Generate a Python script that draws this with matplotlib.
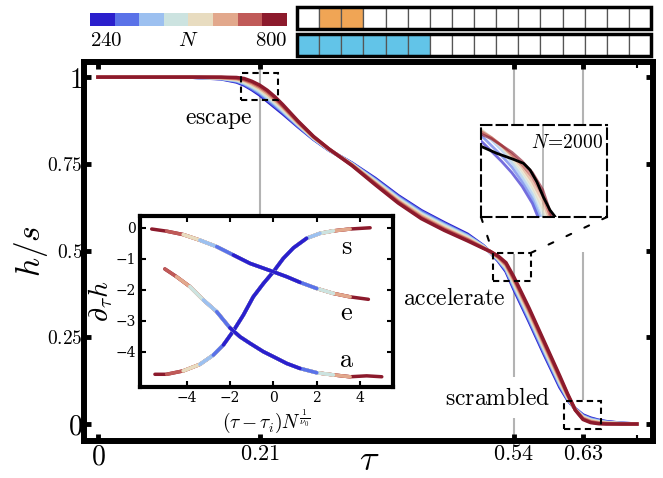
import numpy as np
import matplotlib
matplotlib.use("Agg")
import matplotlib.pyplot as plt
from matplotlib.patches import Rectangle, ConnectionPatch
from matplotlib.colors import ListedColormap

plt.rcParams["mathtext.fontset"] = "cm"
plt.rcParams["font.family"] = "serif"

# system sizes and their colours (blue = 240 ... dark red = 800)
sizes = [240, 320, 400, 480, 560, 640, 720, 800]
colors = ["#2b1fcc", "#5a72e8", "#9cc0f0", "#cce3e0",
          "#e8dcc0", "#e2a88c", "#c05a58", "#8c1a2c"]

# main panel: h/s vs tau, one row per N
tau = [0.00, 0.12, 0.16, 0.18, 0.19, 0.20, 0.21, 0.22, 0.23, 0.24, 0.26, 0.28,
       0.30, 0.33, 0.36, 0.39, 0.42, 0.45, 0.48, 0.50, 0.51, 0.52, 0.53, 0.54,
       0.56, 0.58, 0.60, 0.61, 0.62, 0.63, 0.64, 0.65, 0.66, 0.68, 0.70]
h_by_N = [
    [1.000, 1.000, 0.995, 0.986, 0.977, 0.964, 0.949, 0.931, 0.913, 0.895, 0.857, 0.821,
     0.790, 0.752, 0.708, 0.658, 0.615, 0.580, 0.547, 0.515, 0.494, 0.470, 0.440, 0.390,
     0.296, 0.199, 0.106, 0.070, 0.044, 0.026, 0.017, 0.011, 0.007, 0.002, 0.000],
    [1.000, 1.000, 0.996, 0.988, 0.980, 0.967, 0.953, 0.935, 0.917, 0.899, 0.859, 0.822,
     0.790, 0.751, 0.705, 0.655, 0.612, 0.577, 0.544, 0.514, 0.494, 0.472, 0.444, 0.395,
     0.301, 0.204, 0.111, 0.072, 0.043, 0.024, 0.015, 0.010, 0.006, 0.002, 0.000],
    [1.000, 1.000, 0.996, 0.990, 0.982, 0.971, 0.957, 0.940, 0.922, 0.902, 0.862, 0.823,
     0.791, 0.750, 0.703, 0.652, 0.608, 0.574, 0.542, 0.513, 0.495, 0.474, 0.447, 0.400,
     0.307, 0.210, 0.115, 0.075, 0.043, 0.022, 0.013, 0.008, 0.005, 0.001, 0.000],
    [1.000, 1.000, 0.997, 0.992, 0.985, 0.974, 0.961, 0.944, 0.926, 0.906, 0.864, 0.824,
     0.791, 0.749, 0.700, 0.649, 0.605, 0.571, 0.539, 0.512, 0.495, 0.476, 0.451, 0.405,
     0.312, 0.215, 0.120, 0.077, 0.042, 0.020, 0.011, 0.007, 0.004, 0.001, 0.000],
    [1.000, 1.000, 0.998, 0.993, 0.988, 0.978, 0.965, 0.949, 0.930, 0.910, 0.866, 0.826,
     0.792, 0.748, 0.698, 0.646, 0.602, 0.567, 0.536, 0.510, 0.496, 0.478, 0.454, 0.410,
     0.318, 0.220, 0.124, 0.080, 0.042, 0.019, 0.010, 0.005, 0.003, 0.001, 0.000],
    [1.000, 1.000, 0.999, 0.995, 0.991, 0.981, 0.969, 0.953, 0.934, 0.914, 0.868, 0.827,
     0.792, 0.747, 0.695, 0.643, 0.599, 0.564, 0.533, 0.509, 0.496, 0.480, 0.458, 0.415,
     0.323, 0.225, 0.129, 0.082, 0.041, 0.017, 0.008, 0.004, 0.002, 0.001, 0.000],
    [1.000, 1.000, 0.999, 0.997, 0.993, 0.985, 0.973, 0.958, 0.939, 0.917, 0.871, 0.828,
     0.793, 0.746, 0.693, 0.640, 0.595, 0.561, 0.531, 0.508, 0.497, 0.482, 0.461, 0.420,
     0.329, 0.231, 0.133, 0.085, 0.041, 0.015, 0.006, 0.002, 0.001, 0.000, 0.000],
    [1.000, 1.000, 1.000, 0.999, 0.996, 0.988, 0.977, 0.962, 0.943, 0.921, 0.873, 0.829,
     0.793, 0.745, 0.690, 0.637, 0.592, 0.558, 0.528, 0.507, 0.497, 0.484, 0.465, 0.425,
     0.334, 0.236, 0.138, 0.087, 0.040, 0.013, 0.004, 0.001, 0.000, 0.000, 0.000],
]

# inset: collapsed derivative curves
x_s = [-5.48, -4.94, -4.17, -3.40, -2.78, -2.31, -1.85, -1.39, -0.93, -0.46, 0.00,
       0.46, 0.93, 1.54, 2.16, 2.78, 3.55, 4.48]
y_s = [-4.73, -4.73, -4.62, -4.41, -4.11, -3.78, -3.33, -2.82, -2.23, -1.80, -1.42,
       -0.99, -0.65, -0.34, -0.18, -0.10, -0.04, 0.00]
x_e = [-5.63, -4.94, -4.17, -3.40, -2.62, -1.85, -1.08, 0.00, 0.62, 1.23, 2.01,
       2.78, 3.55, 4.40]
y_e = [-0.04, -0.11, -0.22, -0.40, -0.61, -0.88, -1.15, -1.42, -1.58, -1.76, -1.96,
       -2.12, -2.23, -2.31]
x_a = [-5.02, -4.48, -3.86, -3.24, -2.62, -2.01, -1.54, -1.08, -0.46, 0.00, 0.62,
       1.23, 2.01, 2.78, 3.55, 4.32, 5.02]
y_a = [-1.33, -1.58, -1.90, -2.33, -2.71, -3.23, -3.52, -3.73, -4.00, -4.16, -4.38,
       -4.54, -4.68, -4.75, -4.81, -4.78, -4.81]
x_lo = [-2.4, -2.9, -3.4, -3.9, -4.4, -4.8, -5.2, -6.0]
x_hi = [1.6, 2.1, 2.5, 2.9, 3.3, 3.7, 4.1, 5.1]

# zoomed panel near the accelerate point
tau_zoom = [0.516, 0.520, 0.524, 0.528, 0.532, 0.536, 0.540, 0.544, 0.548]
h_zoom = [
    [0.479, 0.470, 0.461, 0.451, 0.439, 0.424, 0.402, 0.387, 0.370],
    [0.484, 0.475, 0.466, 0.456, 0.443, 0.428, 0.406, 0.388, 0.370],
    [0.488, 0.480, 0.471, 0.460, 0.447, 0.432, 0.409, 0.390, 0.370],
    [0.489, 0.481, 0.473, 0.462, 0.450, 0.436, 0.416, 0.395, 0.375],
    [0.489, 0.482, 0.474, 0.464, 0.453, 0.439, 0.420, 0.400, 0.380],
    [0.488, 0.482, 0.475, 0.466, 0.456, 0.443, 0.426, 0.403, 0.383],
    [0.487, 0.482, 0.475, 0.467, 0.458, 0.447, 0.431, 0.406, 0.386],
    [0.485, 0.481, 0.475, 0.469, 0.461, 0.451, 0.436, 0.409, 0.390],
]
tau_2000 = [0.5163, 0.5221, 0.5286, 0.5325, 0.5351, 0.5377, 0.5402, 0.5428, 0.5448, 0.5470]
h_2000 = [0.4739, 0.4681, 0.4628, 0.4593, 0.4534, 0.4431, 0.4299, 0.4182, 0.4123, 0.400]

# cell strips at the top
strip_top = [0, 1, 1, 0, 0, 0, 0, 0, 0, 0, 0, 0, 0, 0, 0, 0]
strip_bottom = [1, 1, 1, 1, 1, 1, 0, 0, 0, 0, 0, 0, 0, 0, 0, 0]

fig = plt.figure(figsize=(6.63, 4.78), dpi=100)

# ---- main axes
ax = fig.add_axes([0.1274, 0.0774, 0.8576, 0.7939])
for k in range(len(sizes)):
    ax.plot(tau, h_by_N[k], color=colors[k], lw=2.5, zorder=3 + k)

gray = "#b3b3b3"
ax.vlines(0.21, 0.5, 1.2, color=gray, lw=1.5, zorder=1)
ax.vlines(0.54, -0.1, 0.018, color=gray, lw=1.5, zorder=1)
ax.vlines(0.54, 0.135, 0.49, color=gray, lw=1.5, zorder=1)
ax.vlines(0.54, 0.62, 1.2, color=gray, lw=1.5, zorder=1)
ax.vlines(0.63, 0.069, 0.496, color=gray, lw=1.5, zorder=1)
ax.vlines(0.63, 0.62, 1.2, color=gray, lw=1.5, zorder=1)

dash = (0, (3, 2))
for (x0, y0, w, hh) in [(0.186, 0.934, 0.048, 0.077),
                        (0.513, 0.412, 0.049, 0.081),
                        (0.605, -0.014, 0.048, 0.080)]:
    ax.add_patch(Rectangle((x0, y0), w, hh, fill=False, ec="k", lw=1.5,
                           ls=dash, zorder=12))

ax.text(0.200, 0.865, r"$\mathrm{escape}$", ha="right", va="baseline", fontsize=17)
ax.text(0.5286, 0.343, r"$\mathrm{accelerate}$", ha="right", va="baseline", fontsize=17)
ax.text(0.587, 0.055, r"$\mathrm{scrambled}$", ha="right", va="baseline", fontsize=17)

ax.set_xlim(-0.0175, 0.721)
ax.set_ylim(-0.049, 1.045)
ax.set_xticks([0, 0.21, 0.54, 0.63])
ax.set_xticklabels(["$0$", "$0.21$", "$0.54$", "$0.63$"], fontsize=16)
ax.set_xticks([0.70], minor=True)
ax.set_yticks([0, 0.25, 0.5, 0.75, 1])
ax.set_yticklabels(["$0$", "$0.25$", "$0.5$", "$0.75$", "$1$"], fontsize=14)
for lab in [ax.get_yticklabels()[0], ax.get_yticklabels()[-1], ax.get_xticklabels()[0]]:
    lab.set_fontsize(20)
ax.tick_params(which="major", direction="in", length=5, width=3.5,
               top=True, right=True, pad=1.5)
ax.tick_params(which="minor", direction="in", length=4, width=1.5, top=True)
for sp in ax.spines.values():
    sp.set_linewidth(4.3)
ax.set_xlabel(r"$\tau$", fontsize=26, va="baseline")
ax.xaxis.set_label_coords(0.5, -0.077)
ax.set_ylabel(r"$h/s$", fontsize=24, labelpad=-2)

# ---- collapse inset
inax = fig.add_axes([0.2112, 0.1904, 0.3816, 0.3577], zorder=5)
for xs, ys in [(x_s, y_s), (x_e, y_e), (x_a, y_a)]:
    xs = np.array(xs)
    ys = np.array(ys)
    for k in range(len(sizes) - 1, -1, -1):
        keep = (xs >= x_lo[k]) & (xs <= x_hi[k])
        inax.plot(xs[keep], ys[keep], color=colors[k], lw=2.5,
                  solid_capstyle="round")
inax.text(3.4, -0.6, r"$\mathrm{s}$", fontsize=19, ha="center", va="center")
inax.text(3.4, -2.75, r"$\mathrm{e}$", fontsize=19, ha="center", va="center")
inax.text(3.4, -4.25, r"$\mathrm{a}$", fontsize=19, ha="center", va="center")
inax.set_xlim(-6.17, 5.54)
inax.set_ylim(-5.14, 0.38)
inax.set_xticks([-4, -2, 0, 2, 4])
inax.set_yticks([0, -1, -2, -3, -4])
inax.tick_params(direction="in", length=4, width=1.5, top=True, right=True,
                 labelsize=10, pad=3)
for sp in inax.spines.values():
    sp.set_linewidth(3)
inax.set_xlabel(r"$(\tau-\tau_i)N^{\frac{1}{\nu_0}}$", fontsize=14, labelpad=1)
inax.set_ylabel(r"$\partial_\tau h$", fontsize=20, labelpad=0)

# ---- zoom inset
zax = fig.add_axes([0.7255, 0.546, 0.19, 0.1925], zorder=5)
zax.axvline(0.54, color=gray, lw=1.3, zorder=0)
for k in range(len(sizes)):
    zax.plot(tau_zoom, h_zoom[k], color=colors[k], lw=2, alpha=0.65)
zax.plot(tau_2000, h_2000, color="k", lw=2)
zax.text(0.97, 0.80, r"$N\!=\!2000$", transform=zax.transAxes, ha="right",
         va="center", fontsize=14)
zax.set_xlim(0.516, 0.565)
zax.set_ylim(0.412, 0.493)
zax.set_xticks([])
zax.set_yticks([])
for sp in zax.spines.values():
    sp.set_linestyle((0, (5, 2.5)))
    sp.set_linewidth(1.5)

for xa, xb in [(0, 0.513), (1, 0.562)]:
    con = ConnectionPatch(xyA=(xa, 0), coordsA=zax.transAxes,
                          xyB=(xb, 0.493), coordsB=ax.transData,
                          color="k", lw=1.5, ls=(0, (2.5, 7)))
    fig.add_artist(con)

# ---- colour key
cax = fig.add_axes([90 / 663, 1 - 26 / 478, 197 / 663, 13 / 478])
cax.imshow([np.arange(len(colors))], cmap=ListedColormap(colors), aspect="auto")
cax.axis("off")
fig.text(90 / 663, 1 - 40 / 478, "$%d$" % sizes[0], ha="left", va="center", fontsize=15)
fig.text(188 / 663, 1 - 40 / 478, "$N$", ha="center", va="center", fontsize=15)
fig.text(287 / 663, 1 - 40 / 478, "$%d$" % sizes[-1], ha="right", va="center", fontsize=15)

# ---- cell strips
bax = fig.add_axes([297 / 663, 1 - 56 / 478, 354 / 663, 49 / 478])
bax.set_xlim(0, 16)
bax.set_ylim(0, 2.18)
bax.axis("off")
for row, y0, fill in [(strip_top, 1.18, "#f0a555"), (strip_bottom, 0.0, "#62c4e8")]:
    for i, v in enumerate(row):
        bax.add_patch(Rectangle((i, y0), 1, 1, fc=fill if v else "white",
                                ec="#555555", lw=0.9))
    bax.add_patch(Rectangle((0, y0), 16, 1, fill=False, ec="k", lw=2.5, clip_on=False))

fig.savefig("out.png", dpi=100)
